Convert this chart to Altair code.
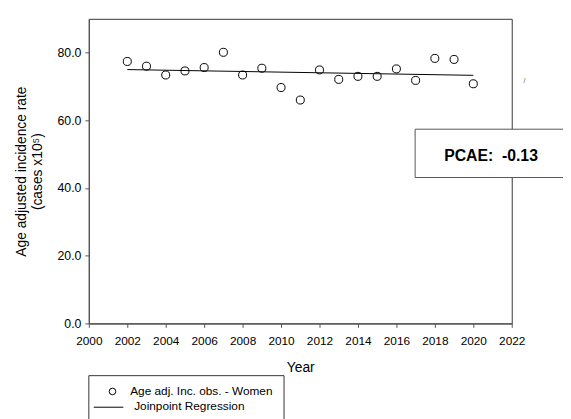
import altair as alt
import pandas as pd

years = list(range(2002, 2021))
rates = [77.4, 76.0, 73.4, 74.6, 75.6, 80.1, 73.4, 75.4, 69.7, 66.0,
         74.9, 72.1, 73.0, 73.0, 75.2, 71.8, 78.3, 78.0, 70.8]
fit_years = [2002, 2020]
fit_rates = [75.0, 73.3]
x_ticks = list(range(2000, 2023, 2))
y_ticks = [0, 20, 40, 60, 80]
pcae_label = "PCAE:\u00a0\u00a0-0.13"
legend_labels = ["Age adj. Inc. obs. - Women", "Joinpoint Regression"]

obs = pd.DataFrame({"Year": years, "Rate": rates})
fit = pd.DataFrame({"Year": fit_years, "Rate": fit_rates})

FONT = "Liberation Sans"

xs = alt.Scale(domain=[2000, 2022], nice=False)
ys = alt.Scale(domain=[0, 90], nice=False)

x_axis = alt.Axis(values=x_ticks, format="d", grid=False, title="Year",
                  labelFontSize=12, titleFontSize=14, titleFontWeight="normal",
                  titlePadding=15, labelPadding=8, tickSize=4, labelFlush=False,
                  labelOverlap=False, labelBound=False)
y_axis = alt.Axis(values=y_ticks, format=".1f", grid=False,
                  title=["Age adjusted incidence rate", "(cases x10\u2075)"],
                  labelFontSize=12.5, titleFontSize=14, titleFontWeight="normal",
                  titlePadding=13, labelPadding=4, tickSize=4)

points = alt.Chart(obs).mark_point(shape="circle", filled=False, color="black",
                                   size=66, strokeWidth=1, opacity=1).encode(
    x=alt.X("Year:Q", scale=xs, axis=x_axis),
    y=alt.Y("Rate:Q", scale=ys, axis=y_axis),
)

line = alt.Chart(fit).mark_line(color="black", strokeWidth=1).encode(
    x=alt.X("Year:Q", scale=xs, axis=x_axis),
    y=alt.Y("Rate:Q", scale=ys, axis=y_axis),
)

one = pd.DataFrame({"a": [0]})

pcae_box = alt.Chart(one).mark_rect(fill="white", stroke="#555", strokeWidth=1).encode(
    x=alt.value(331), x2=alt.value(495), y=alt.value(112), y2=alt.value(161))
pcae_text = alt.Chart(one).mark_text(text=pcae_label, font=FONT, fontSize=16,
                                     fontWeight="bold", align="center",
                                     baseline="middle", color="black").encode(
    x=alt.value(408), y=alt.value(139))
stray = alt.Chart(one).mark_text(text="/", font=FONT, fontSize=7, color="#555",
                                 align="center", baseline="middle").encode(
    x=alt.value(442), y=alt.value(63))

leg_box = alt.Chart(one).mark_rect(fill="white", stroke="#333", strokeWidth=1).encode(
    x=alt.value(0), x2=alt.value(198), y=alt.value(362), y2=alt.value(420))
leg_sym = alt.Chart(one).mark_point(shape="circle", filled=False, color="black",
                                    size=45, strokeWidth=1, opacity=1).encode(
    x=alt.value(24), y=alt.value(378))
leg_line = alt.Chart(one).mark_rule(color="black", strokeWidth=1).encode(
    x=alt.value(5), x2=alt.value(35), y=alt.value(394))
leg_t1 = alt.Chart(one).mark_text(text=legend_labels[0], font=FONT, fontSize=12,
                                  align="left", baseline="middle", color="black").encode(
    x=alt.value(42), y=alt.value(378))
leg_t2 = alt.Chart(one).mark_text(text=legend_labels[1], font=FONT, fontSize=12,
                                  align="left", baseline="middle", color="black").encode(
    x=alt.value(46), y=alt.value(393))

chart = alt.layer(points, line, pcae_box, pcae_text, stray,
                  leg_box, leg_sym, leg_line, leg_t1, leg_t2).properties(
    width=429, height=309,
    autosize=alt.AutoSizeParams(type="none"),
    padding={"left": 82, "top": 8, "right": 52, "bottom": 94},
    background="white",
).configure_view(stroke="#333", strokeWidth=1).configure_axis(
    labelFont=FONT, titleFont=FONT, labelColor="black", titleColor="black",
    domainColor="#555", tickColor="#555", domainWidth=1.2,
).configure_axisX(labelOverlap=False)

chart.save("out.html", embed_options={"renderer": "svg", "actions": False})
